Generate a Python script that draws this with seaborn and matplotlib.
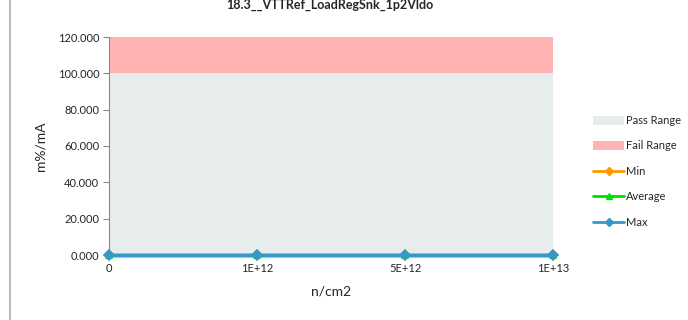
import matplotlib
matplotlib.use("Agg")
import matplotlib.pyplot as plt
import seaborn as sns
import pandas as pd
import numpy as np
from matplotlib.patches import Patch
from matplotlib.lines import Line2D

categories = ["0", "1E+12", "5E+12", "1E+13"]
min_vals = [0.0, 0.0, 0.0, 0.0]
avg_vals = [0.0, 0.0, 0.0, 0.0]
max_vals = [0.0, 0.0, 0.0, 0.0]
pass_low, pass_high = 0.0, 100.0
fail_low, fail_high = 100.0, 120.0
title = "18.3__VTTRef_LoadRegSnk_1p2Vldo"

sns.set_style("white")
plt.rcParams['font.family'] = ['Lato', 'DejaVu Sans']

fig = plt.figure(figsize=(6.88, 3.2), dpi=100)
ax = fig.add_axes([109/688, 1-255/320, (553-109)/688, (255-37)/320])

xpos = np.arange(len(categories))
ax.fill_between([xpos[0], xpos[-1]], pass_low, pass_high, color="#E7ECEC", lw=0)
ax.fill_between([xpos[0], xpos[-1]], fail_low, fail_high, color="#FFB3B3", lw=0)

df = pd.DataFrame({
    "x": np.concatenate([xpos]*3),
    "y": min_vals + avg_vals + max_vals,
    "series": ["Min"]*4 + ["Average"]*4 + ["Max"]*4,
})
palette = {"Min": "#FF9900", "Average": "#00DD00", "Max": "#3399CC"}
markers = {"Min": "D", "Average": "^", "Max": "D"}
sns.lineplot(data=df, x="x", y="y", hue="series", style="series", palette=palette,
             markers=markers, dashes=False, lw=2.5, markersize=6, markeredgewidth=0,
             ax=ax, legend=False, zorder=3)
for ln in ax.get_lines():
    ln.set_clip_on(False)

ax.set_xlim(xpos[0], xpos[-1])
ax.set_ylim(0, 120)
ax.set_xticks(xpos)
ax.set_xticklabels(categories)
ax.set_yticks(np.arange(0, 121, 20))
ax.set_yticklabels([f"{v:.3f}" for v in np.arange(0, 121, 20)])
ax.tick_params(axis="y", length=4, width=0.8, color="#888888", labelsize=8, pad=3, left=True)
ax.tick_params(axis="x", length=0, labelsize=8, pad=6)
for s in ["top", "right", "bottom"]:
    ax.spines[s].set_visible(False)
ax.spines["left"].set_color("#888888")
ax.spines["left"].set_linewidth(0.8)
ax.set_xlabel("n/cm2", fontsize=10, labelpad=8)
ax.set_ylabel("m%/mA", fontsize=10, labelpad=8)

fig.text(330/688, 1-5/320, title, ha="center", va="center", fontsize=9, fontweight="bold")

fig.add_artist(Line2D([10/688, 10/688], [0, 1], color="#BBBBBB", lw=1.5))

handles = [
    Patch(facecolor="#E7ECEC", edgecolor="none", label="Pass Range"),
    Patch(facecolor="#FFB3B3", edgecolor="none", label="Fail Range"),
    Line2D([], [], color="#FF9900", marker="D", markersize=4, lw=2, label="Min"),
    Line2D([], [], color="#00DD00", marker="^", markersize=5, lw=2, label="Average"),
    Line2D([], [], color="#3399CC", marker="D", markersize=4, lw=2, label="Max"),
]
fig.legend(handles=handles, loc="upper left", bbox_to_anchor=(593/688, 1-115/320),
           frameon=False, fontsize=8, handlelength=2.8, handleheight=0.9,
           labelspacing=1.3, handletextpad=0.2, borderaxespad=0, borderpad=0)

fig.savefig("out.png", dpi=100)
